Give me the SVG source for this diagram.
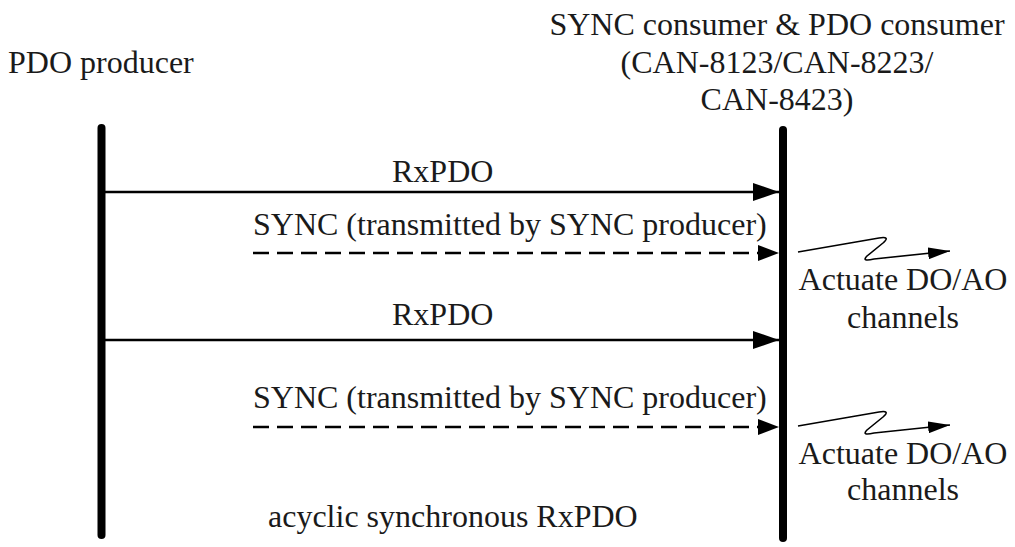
<svg xmlns="http://www.w3.org/2000/svg" width="1015" height="547" viewBox="0 0 1015 547">
<style>
text{font-family:"Liberation Serif","Times New Roman",serif;font-size:32px;fill:#1a1a1a}
.mid{text-anchor:middle}
.life{stroke:#000;stroke-width:8;stroke-linecap:round;fill:none}
.msg{stroke:#000;stroke-width:2.5;fill:none}
.dash{stroke:#000;stroke-width:2.5;fill:none;stroke-dasharray:16 8}
.zig{stroke:#000;stroke-width:1.6;fill:none}
</style>
<defs>
<marker id="solid" markerUnits="userSpaceOnUse" markerWidth="26" markerHeight="18" refX="26" refY="9" orient="auto"><path d="M0,0 L26,9 L0,18 z" fill="#000"/></marker>
<marker id="dashed" markerUnits="userSpaceOnUse" markerWidth="21" markerHeight="16" refX="21" refY="8" orient="auto"><path d="M0,0 L21,8 L0,16 z" fill="#000"/></marker>
<marker id="small" markerUnits="userSpaceOnUse" markerWidth="22" markerHeight="12" refX="22" refY="6" orient="auto"><path d="M0,0 L22,6 L0,12 z" fill="#000"/></marker>
</defs>
<rect width="1015" height="547" fill="#fff"/>
<g id="producer">
<text x="8" y="73">PDO producer</text>
<line class="life" x1="101.5" y1="128" x2="101.5" y2="535"/>
</g>
<g id="consumer">
<text class="mid" x="777" y="35">SYNC consumer &amp; PDO consumer</text>
<text class="mid" x="777" y="72.5">(CAN-8123/CAN-8223/</text>
<text class="mid" x="777" y="110">CAN-8423)</text>
<line class="life" x1="783" y1="130" x2="783" y2="538"/>
</g>
<g id="connectors">
<line class="msg" x1="105" y1="192" x2="779" y2="192" marker-end="url(#solid)"/>
<line class="dash" x1="253" y1="253" x2="779" y2="253" marker-end="url(#dashed)"/>
<line class="msg" x1="105" y1="340" x2="779" y2="340" marker-end="url(#solid)"/>
<line class="dash" x1="253" y1="427" x2="779" y2="427" marker-end="url(#dashed)"/>
<path class="zig" d="M798,252 L879,238 Q891,236 883,243 L867,256 Q861,262 874,259 L950,251" marker-end="url(#small)"/>
<path class="zig" d="M798,426 L879,412 Q891,410 883,417 L867,430 Q861,436 874,433 L950,425" marker-end="url(#small)"/>
</g>
<g id="labels">
<text x="392" y="182">RxPDO</text>
<text x="253" y="235">SYNC (transmitted by SYNC producer)</text>
<text x="392" y="325">RxPDO</text>
<text x="253" y="408">SYNC (transmitted by SYNC producer)</text>
<text x="268" y="527">acyclic synchronous RxPDO</text>
</g>
<g id="actuate1">
<text class="mid" x="903" y="290">Actuate DO/AO</text>
<text class="mid" x="903" y="328">channels</text>
</g>
<g id="actuate2">
<text class="mid" x="903" y="464">Actuate DO/AO</text>
<text class="mid" x="903" y="500">channels</text>
</g>
</svg>
